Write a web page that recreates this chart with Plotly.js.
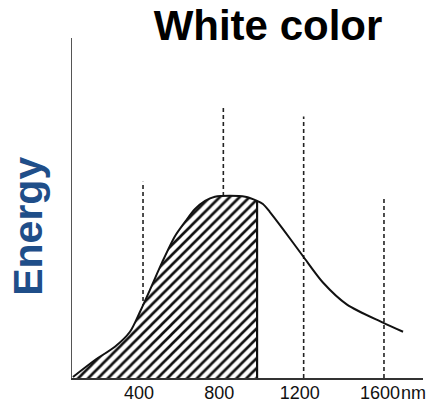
<!DOCTYPE html>
<html>
<head>
<meta charset="utf-8">
<script src="https://cdn.plot.ly/plotly-3.0.1.min.js"></script>
<style>html,body{margin:0;padding:0;background:#fff;}#chart{width:433px;height:404px;}</style>
</head>
<body>
<div id="chart"></div>
<script>
// Spectrum of white light (wavelength in nm, relative energy)
const wavelengths = [51, 161, 260, 335, 385, 435, 495, 559, 609, 659, 709, 758, 833, 909, 968, 997, 1032, 1097, 1197, 1296, 1416, 1595, 1695];
const energies    = [0.3, 5.3, 9.2, 13.6, 19.5, 26.0, 34.0, 41.7, 45.9, 49.7, 52.1, 53.3, 53.6, 53.3, 52.1, 51.2, 48.8, 43.8, 35.8, 28.1, 21.6, 16.3, 13.6];
const shadeCutoff = 968;            // hatched region ends here (nm)
const tickValues = [400, 800, 1200, 1600];
const tickLabels = ['400', '800', '1200', '1600'];
const guideHeights = [57.7, 79.9, 76.9, 53.3];   // tops of dashed guide lines
const unitLabel = 'nm';

// shaded polygon built from the data
const shX = [], shY = [];
let cutE = 0;
wavelengths.forEach((w, i) => { if (w <= shadeCutoff) { shX.push(w); shY.push(energies[i]); cutE = energies[i]; } });
shX.push(shadeCutoff); shY.push(0);
shX.push(wavelengths[0]); shY.push(0);

const traces = [];
// dashed guide lines
tickValues.forEach((t, i) => {
  traces.push({
    x: [t, t], y: [0, guideHeights[i]], mode: 'lines', type: 'scatter',
    line: {color: '#222', width: 1.6, dash: '4px,3px'}, hoverinfo: 'skip', showlegend: false
  });
});
traces.push({
  x: shX, y: shY, type: 'scatter', mode: 'lines', fill: 'toself',
  fillcolor: 'white',
  fillpattern: {shape: '/', size: 7, solidity: 0.38, fgcolor: '#111', bgcolor: 'white'},
  line: {color: 'rgba(0,0,0,0)', width: 0}, showlegend: false, hoverinfo: 'skip'
});
// right edge of the hatched region
traces.push({
  x: [shadeCutoff, shadeCutoff], y: [0, cutE], type: 'scatter', mode: 'lines',
  line: {color: '#111', width: 2.2}, showlegend: false, hoverinfo: 'skip'
});
traces.push({
  x: wavelengths, y: energies, type: 'scatter', mode: 'lines',
  line: {color: '#111', width: 2, shape: 'spline', smoothing: 0.8}, showlegend: false
});

const layout = {
  width: 433, height: 404,
  margin: {l: 72, r: 10, t: 38, b: 26},
  paper_bgcolor: 'white', plot_bgcolor: 'white',
  font: {family: 'Liberation Sans, Arial, sans-serif', color: '#111'},
  title: {
    text: '<b>White color</b>',
    font: {family: 'Liberation Sans, Arial, sans-serif', size: 42, color: '#000'},
    x: 268 / 433, xanchor: 'center', xref: 'container',
    y: 1 - 11 / 404, yanchor: 'top', yref: 'container'
  },
  xaxis: {
    range: [46.3, 1794.3], showgrid: false, zeroline: false,
    showline: true, linecolor: '#333', linewidth: 1.5,
    tickvals: tickValues, ticktext: tickLabels, ticks: '',
    tickfont: {size: 18, color: '#111'}, ticklabelshift: -4, ticklabelstandoff: -2,
    fixedrange: true
  },
  yaxis: {
    range: [0, 100], showgrid: false, zeroline: false,
    showline: true, linecolor: '#555', linewidth: 1.5,
    showticklabels: false, ticks: '', fixedrange: true
  },
  annotations: [
    {
      text: '<b>Energy</b>', xref: 'paper', yref: 'paper',
      x: -0.126, y: 0.5, xanchor: 'center', yanchor: 'middle',
      textangle: -90, showarrow: false,
      font: {family: 'Liberation Sans, Arial, sans-serif', size: 41, color: '#1f4e89'},
      yshift: -18
    },
    {
      text: unitLabel, xref: 'x', yref: 'paper', x: tickValues[tickValues.length - 1],
      y: 0, xanchor: 'left', yanchor: 'top', xshift: 15, yshift: -3,
      showarrow: false, font: {size: 18, color: '#111'}
    }
  ]
};
Plotly.newPlot('chart', traces, layout, {displayModeBar: false, staticPlot: true});
</script>
</body>
</html>
